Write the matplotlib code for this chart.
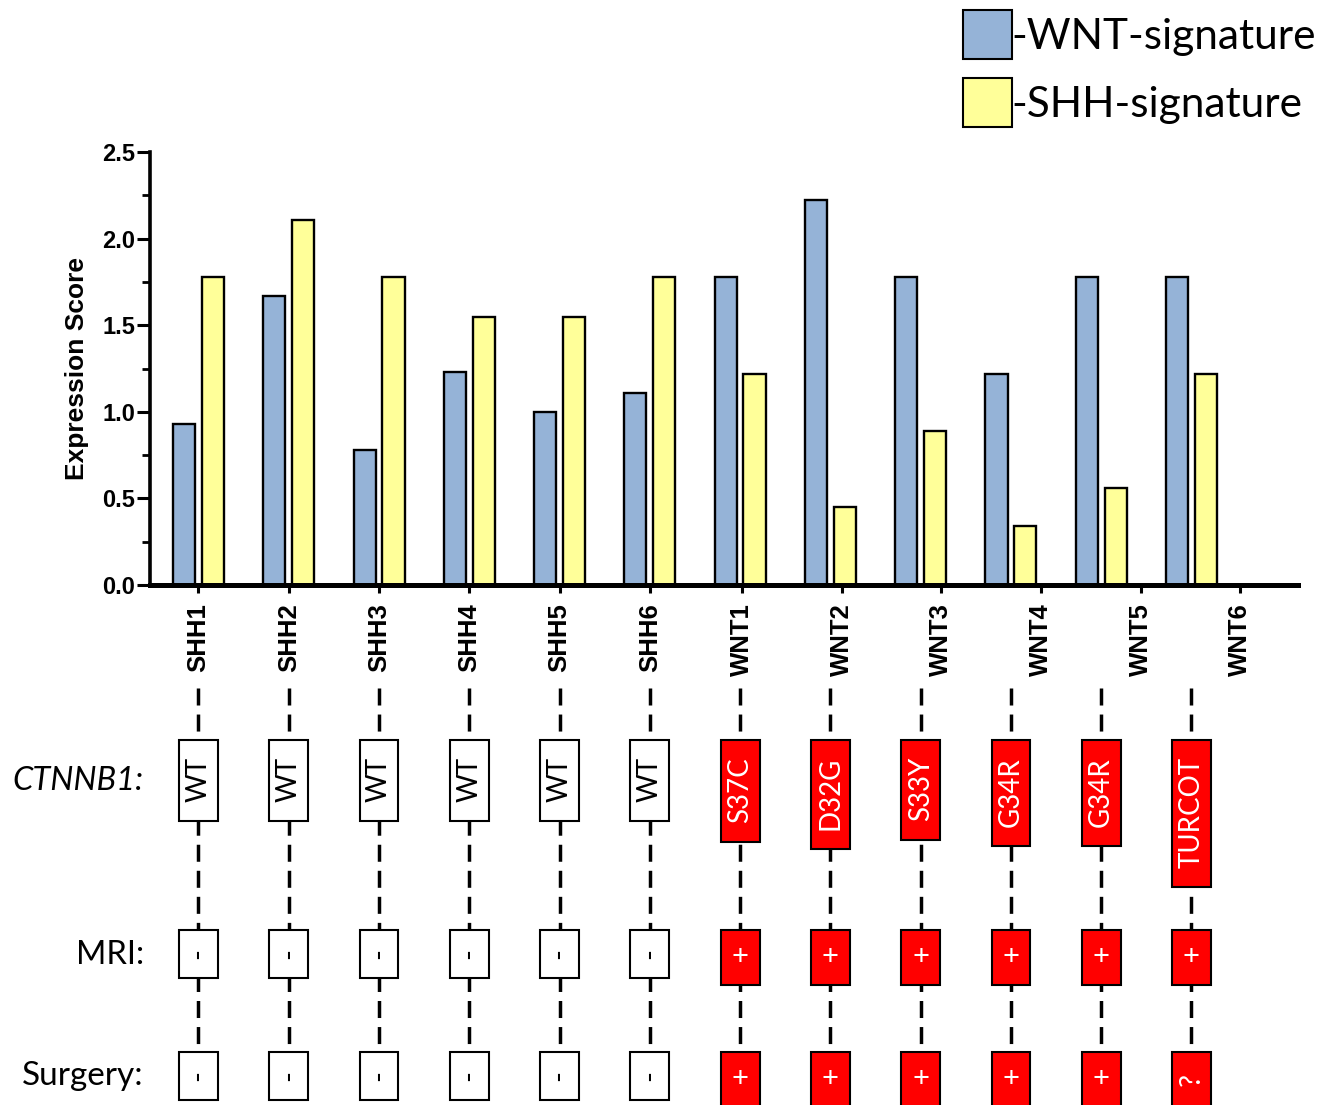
import numpy as np
import matplotlib
matplotlib.use("Agg")
import matplotlib.pyplot as plt
from matplotlib.patches import Rectangle, Patch
from matplotlib.ticker import MultipleLocator, FormatStrFormatter

# ---- data -------------------------------------------------------------
samples = ["SHH1", "SHH2", "SHH3", "SHH4", "SHH5", "SHH6",
           "WNT1", "WNT2", "WNT3", "WNT4", "WNT5", "WNT6"]
wnt_signature = [0.93, 1.67, 0.78, 1.23, 1.00, 1.11, 1.78, 2.22, 1.78, 1.22, 1.78, 1.78]
shh_signature = [1.78, 2.11, 1.78, 1.55, 1.55, 1.78, 1.22, 0.45, 0.89, 0.34, 0.56, 1.22]
ctnnb1_status = ["WT", "WT", "WT", "WT", "WT", "WT",
                 "S37C", "D32G", "S33Y", "G34R", "G34R", "TURCOT"]
mri_status = ["-", "-", "-", "-", "-", "-", "+", "+", "+", "+", "+", "+"]
surgery_status = ["-", "-", "-", "-", "-", "-", "+", "+", "+", "+", "+", "?"]
row_names = ["CTNNB1:", "MRI:", "Surgery:"]
legend_labels = ["-WNT-signature", "-SHH-signature"]

# ---- style ------------------------------------------------------------
BLUE = "#95B3D7"
YELLOW = "#FFFF99"
RED = "#FF0000"
AXFONT = "Liberation Sans"
TXTFONT = ["Lato", "DejaVu Sans"]

W, H = 1330, 1105
fig = plt.figure(figsize=(W / 100, H / 100), dpi=100)

# ---- bar chart --------------------------------------------------------
ax = fig.add_axes([150 / W, (H - 585) / H, 1148 / W, 433 / H])
x = np.arange(len(samples))
ax.bar(x - 0.16, wnt_signature, 0.245, color=BLUE, edgecolor="black", linewidth=1.7)
ax.bar(x + 0.16, shh_signature, 0.245, color=YELLOW, edgecolor="black", linewidth=1.7)
ax.set_xlim(-0.537, 12.18)
ax.set_ylim(0, 2.5)

for side in ("top", "right"):
    ax.spines[side].set_visible(False)
ax.spines["left"].set_linewidth(2.6)
ax.spines["bottom"].set_linewidth(3.6)

ax.yaxis.set_major_locator(MultipleLocator(0.5))
ax.yaxis.set_minor_locator(MultipleLocator(0.25))
ax.yaxis.set_major_formatter(FormatStrFormatter("%.1f"))
ax.tick_params(axis="y", which="major", direction="out", length=9.5, width=2.2,
               pad=1, labelsize=17)
ax.tick_params(axis="y", which="minor", direction="out", length=5.5, width=2.0)
for lbl in ax.get_yticklabels():
    lbl.set_fontfamily(AXFONT)
    lbl.set_fontweight("bold")

# sample labels: the WNT labels are spread a little wider than the bar groups
tick_x = np.concatenate([x[:6], x[6] + 0.02 + 1.104 * np.arange(6)])
ax.set_xticks(tick_x)
ax.set_xticklabels(samples, rotation=90, fontsize=18.5, fontweight="bold",
                   fontfamily=AXFONT)
ax.tick_params(axis="x", direction="out", length=6, width=2.2, pad=7)

ax.set_ylabel("Expression Score", fontsize=19, fontweight="bold", fontfamily=AXFONT)
ax.yaxis.set_label_coords(-0.053, 0.5)

# ---- annotation rows --------------------------------------------------
ax2 = fig.add_axes([150 / W, 0, 1148 / W, (H - 685) / H])
ax2.set_xlim(ax.get_xlim())
ax2.set_ylim(H, 685)
ax2.axis("off")

ax2.vlines(x, 688, 1052, colors="black", linewidth=2.5,
           linestyles=[(0, (4.9, 2.6))], zorder=1)

BOX_W = 0.43
EDGE = 1.5
BOX_FS = 20

gene_texts = []
for i, lab in enumerate(ctnnb1_status):
    mutated = lab != "WT"
    t = ax2.text(i, 757, lab, rotation=90, ha="center", va="top", fontsize=BOX_FS,
                 family=TXTFONT, color="white" if mutated else "black", zorder=4)
    gene_texts.append((i, t, mutated))


def status_row(values, top):
    for i, v in enumerate(values):
        positive = v != "-"
        h = 55 if positive else 48
        ax2.add_patch(Rectangle((i - BOX_W / 2, top), BOX_W, h,
                                facecolor=RED if positive else "white",
                                edgecolor="black", linewidth=EDGE, zorder=3))
        ax2.text(i, top + h / 2, v, rotation=0 if v == "+" else 90,
                 ha="center", va="center", fontsize=BOX_FS + 1, family=TXTFONT,
                 color="white" if positive else "black", zorder=4)


status_row(mri_status, 930)
status_row(surgery_status, 1052)

# size the CTNNB1 boxes to their labels
fig.canvas.draw()
renderer = fig.canvas.get_renderer()
inv = ax2.transData.inverted()
for i, t, mutated in gene_texts:
    bb = t.get_window_extent(renderer)
    y_bottom = inv.transform((bb.x0, bb.y0))[1]
    ax2.add_patch(Rectangle((i - BOX_W / 2, 740), BOX_W, y_bottom + 19 - 740,
                            facecolor=RED if mutated else "white",
                            edgecolor="black", linewidth=EDGE, zorder=3))

# row titles
fig.text(144 / W, 1 - 790 / H, row_names[0], ha="right", va="baseline",
         fontsize=23.5, family=TXTFONT, style="italic")
fig.text(144 / W, 1 - 964 / H, row_names[1], ha="right", va="baseline",
         fontsize=23.5, family=TXTFONT)
fig.text(144 / W, 1 - 1085 / H, row_names[2], ha="right", va="baseline",
         fontsize=24, family=TXTFONT)

# ---- legend -----------------------------------------------------------
handles = [Patch(facecolor=BLUE, edgecolor="black", linewidth=1.5),
           Patch(facecolor=YELLOW, edgecolor="black", linewidth=1.5)]
fig.legend(handles=handles, labels=legend_labels, loc="upper left",
           bbox_to_anchor=(963 / W, 1 - 10 / H), frameon=False,
           prop={"family": TXTFONT, "size": 30.5},
           handlelength=1.15, handleheight=1.4, handletextpad=0,
           borderpad=0, borderaxespad=0, labelspacing=0.46)

fig.savefig("out.png", dpi=100)
